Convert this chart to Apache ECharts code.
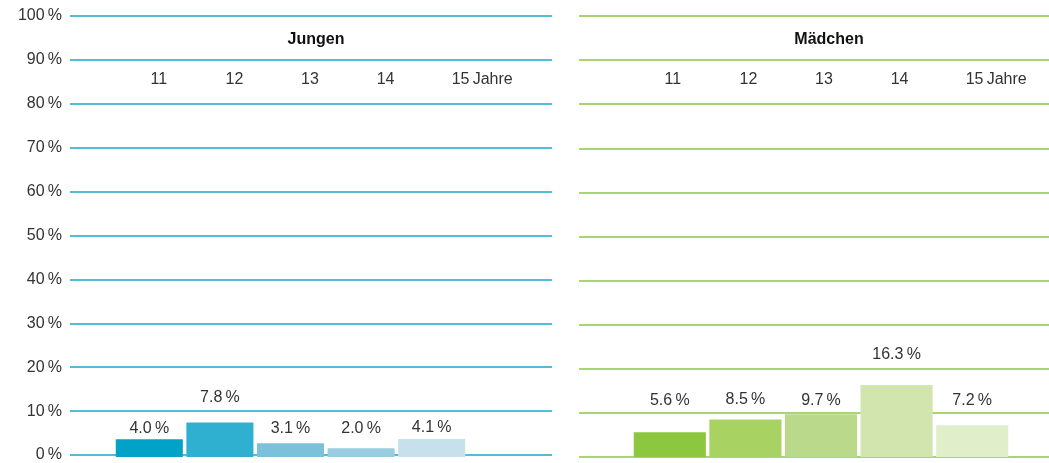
<!DOCTYPE html>
<html>
<head>
<meta charset="utf-8">
<script src="https://cdn.jsdelivr.net/npm/echarts@6/dist/echarts.min.js"></script>
<style>
  html, body { margin: 0; padding: 0; background: #fff; }
  #chart { width: 1049px; height: 463px; }
</style>
</head>
<body>
<div id="chart"></div>
<script>
// data
const ages = ['11', '12', '13', '14', '15'];
const jungen = [4.0, 7.8, 3.1, 2.0, 4.1];
const maedchen = [5.6, 8.5, 9.7, 16.3, 7.2];
const yTicks = [0, 10, 20, 30, 40, 50, 60, 70, 80, 90, 100];

// styles
const blue = '#1ba6cc';
const green = '#8dc63f';
const jungenColors = ['#00a3c7', '#30b0d0', '#7cc1da', '#98cde0', '#c6e1ec'];
const maedchenColors = ['#8dc63f', '#a8d262', '#bbd98b', '#d2e5ae', '#e1eeca'];
// label lift above each bar (px), as in the original layout
const jungenLabelGap = [3, 17, 7, 12, 3];
const maedchenLabelGap = [24, 12, 6, 23, 17];

const font = 'Liberation Sans, Arial, sans-serif';
const fontSize = 16;
const textColor = '#333';

const pct = v => v.toFixed(1) + '\u2009%';

function barData(values, colors, gaps) {
  return values.map((v, i) => ({
    value: v,
    itemStyle: { color: colors[i] },
    label: { distance: gaps[i] }
  }));
}

function ageLabel(v) {
  return v === '15' ? '{p|}15{j|\u2009Jahre}' : v;
}

const ageRich = {
  p: { width: 42 },
  j: { fontFamily: font, fontSize: fontSize, color: textColor }
};

const ageAxisLabel = {
  interval: 0, margin: 2, fontFamily: font, fontSize: fontSize, color: textColor,
  formatter: ageLabel, rich: ageRich
};

const titleStyle = { fontFamily: font, fontSize: 16, fontWeight: 'bold', color: '#111' };

const chart = echarts.init(document.getElementById('chart'), null, { renderer: 'canvas' });

const option = {
  animation: false,
  backgroundColor: '#fff',
  title: [
    { text: 'Jungen', left: 311, top: 27, textAlign: 'center', textStyle: titleStyle },
    { text: 'Mädchen', left: 824, top: 27, textAlign: 'center', textStyle: titleStyle }
  ],
  grid: [
    { left: 70, right: 497, top: 16, bottom: 6 },   // left lines
    { left: 114, right: 582, top: 16, bottom: 6 },  // left bars
    { left: 121, right: 550, top: 40, height: 30 }, // left age labels
    { left: 579, right: 0, top: 16, bottom: 6 },    // right lines
    { left: 632, right: 39, top: 16, bottom: 6 },   // right bars
    { left: 635, right: 36, top: 40, height: 30 }   // right age labels
  ],
  xAxis: [
    { gridIndex: 0, type: 'value', show: false },
    { gridIndex: 1, type: 'category', data: ages, show: false },
    { gridIndex: 2, type: 'category', data: ages, position: 'bottom',
      axisLine: { show: false }, axisTick: { show: false }, axisLabel: ageAxisLabel },
    { gridIndex: 3, type: 'value', show: false },
    { gridIndex: 4, type: 'category', data: ages, show: false },
    { gridIndex: 5, type: 'category', data: ages, position: 'bottom',
      axisLine: { show: false }, axisTick: { show: false }, axisLabel: ageAxisLabel }
  ],
  yAxis: [
    { gridIndex: 0, type: 'value', min: yTicks[0], max: yTicks[yTicks.length - 1], interval: 10,
      axisLine: { show: false }, axisTick: { show: false },
      axisLabel: { margin: 8, fontFamily: font, fontSize: fontSize, color: textColor,
        formatter: v => v + '\u2009%' },
      splitLine: { lineStyle: { color: blue, width: 1.6 } } },
    { gridIndex: 1, type: 'value', min: 0, max: 100, show: false, splitLine: { show: false } },
    { gridIndex: 2, type: 'value', show: false },
    { gridIndex: 3, type: 'value', min: 0, max: 100, interval: 10,
      axisLine: { show: false }, axisTick: { show: false }, axisLabel: { show: false },
      splitLine: { lineStyle: { color: green, width: 1.6 } } },
    { gridIndex: 4, type: 'value', min: 0, max: 100, show: false, splitLine: { show: false } },
    { gridIndex: 5, type: 'value', show: false }
  ],
  series: [
    { type: 'bar', xAxisIndex: 1, yAxisIndex: 1, barCategoryGap: '5%',
      data: barData(jungen, jungenColors, jungenLabelGap),
      label: { show: true, position: 'top', fontFamily: font, fontSize: fontSize,
        color: textColor, formatter: p => pct(p.value) } },
    { type: 'bar', xAxisIndex: 4, yAxisIndex: 4, barCategoryGap: '4.6%',
      data: barData(maedchen, maedchenColors, maedchenLabelGap),
      label: { show: true, position: 'top', fontFamily: font, fontSize: fontSize,
        color: textColor, formatter: p => pct(p.value) } }
  ]
};

chart.setOption(option);
</script>
</body>
</html>
